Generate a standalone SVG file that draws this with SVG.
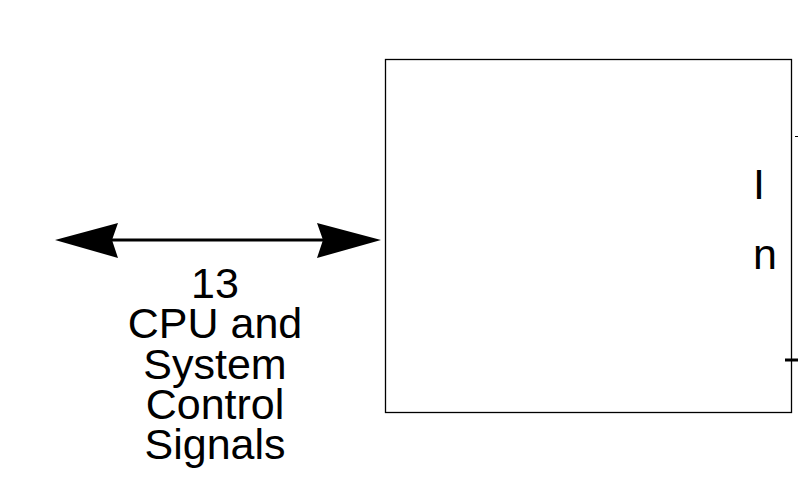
<svg xmlns="http://www.w3.org/2000/svg" width="798" height="489" viewBox="0 0 798 489">
<style>
text{font-family:"Liberation Sans",Arial,sans-serif;font-size:43px;fill:#000}
.lbl{text-anchor:middle}
</style>
<rect width="798" height="489" fill="#fff"/>
<g id="block">
<rect x="385.5" y="59.5" width="406" height="353" fill="none" stroke="#000" stroke-width="1.3"/>
<line x1="795" y1="136.5" x2="798" y2="136.5" stroke="#000" stroke-width="1"/>
<line x1="785" y1="360" x2="798" y2="360" stroke="#000" stroke-width="3"/>
<text x="753" y="199">I</text>
<text x="753" y="269">n</text>
</g>
<g id="connectors">
<line x1="110" y1="240" x2="325" y2="240" stroke="#000" stroke-width="3"/>
<polygon points="55,240 118,223 112,240 118,258" fill="#000"/>
<polygon points="381,240 317,223 323,240 317,258" fill="#000"/>
</g>
<g id="label">
<text class="lbl" x="215" y="297.5">13</text>
<text class="lbl" x="215" y="338">CPU and</text>
<text class="lbl" x="215" y="378.5">System</text>
<text class="lbl" x="215" y="418.5">Control</text>
<text class="lbl" x="215" y="458.5">Signals</text>
</g>
</svg>
